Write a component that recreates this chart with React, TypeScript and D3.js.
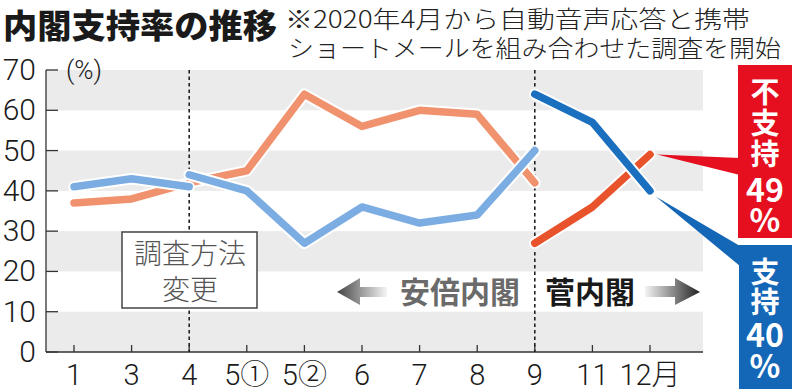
import * as d3 from "d3";

const months = ["1", "3", "4", "5①", "5②", "6", "7", "8", "9", "11", "12月"];
const yTicks = [0, 10, 20, 30, 40, 50, 60, 70];

// 安倍内閣（調査方法変更前）
const abeOldSupport = [41, 43, 41];
const abeOldDisapprove = [37, 38, 42];
// 安倍内閣（調査方法変更後）
const abeNewSupport = [44, 40, 27, 36, 32, 34, 50];
const abeNewDisapprove = [42, 45, 64, 56, 60, 59, 42];
// 菅内閣
const sugaSupport = [64, 57, 40];
const sugaDisapprove = [27, 36, 49];

const W = 800;
const H = 392;
const axisLeft = 46;
const axisRight = 703;
const jp = "'Noto Sans CJK JP', 'Noto Sans', sans-serif";
const num = "Roboto, 'Noto Sans CJK JP', sans-serif";

const x = d3.scalePoint<string>().domain(months).range([74, 650]);
const y = d3.scaleLinear().domain([0, 70]).range([352, 70]);

type Seg = { from: number; values: number[]; color: string };

const segments: Seg[] = [
  { from: 0, values: abeOldDisapprove, color: "#f1926e" },
  { from: 2, values: abeNewDisapprove, color: "#f1926e" },
  { from: 8, values: sugaDisapprove, color: "#e8532b" },
  { from: 0, values: abeOldSupport, color: "#7cade2" },
  { from: 2, values: abeNewSupport, color: "#7cade2" },
  { from: 8, values: sugaSupport, color: "#1b6fbf" },
];

const line = d3
  .line<[string, number]>()
  .x((d) => x(d[0])!)
  .y((d) => y(d[1]));

function segPath(s: Seg) {
  return line(s.values.map((v, i) => [months[s.from + i], v] as [string, number]))!;
}

export default function App() {
  const bands = [0, 20, 40, 60];
  const x4 = x("4")!;
  const x9 = x("9")!;
  const last = months[months.length - 1];
  const redEnd = { x: x(last)!, y: y(sugaDisapprove[2]) };
  const blueEnd = { x: x(last)!, y: y(sugaSupport[2]) };

  return (
    <div style={{ position: "fixed", left: 0, top: 0 }}>
      <svg width={W} height={H} style={{ display: "block", background: "#fff" }}>
        <defs>
          <linearGradient id="arrL" x1="0" x2="1" y1="0" y2="0">
            <stop offset="0%" stopColor="#444" />
            <stop offset="100%" stopColor="#444" stopOpacity={0.05} />
          </linearGradient>
          <linearGradient id="arrR" x1="0" x2="1" y1="0" y2="0">
            <stop offset="0%" stopColor="#222" stopOpacity={0.05} />
            <stop offset="100%" stopColor="#222" />
          </linearGradient>
        </defs>

        {/* title */}
        <text x={3} y={38} fontFamily={jp} fontWeight={900} fontSize={33} fill="#1a1a1a"
          textLength={274} lengthAdjust="spacingAndGlyphs">
          内閣支持率の推移
        </text>
        <text x={285} y={28} fontFamily={jp} fontWeight={300} fontSize={24} fill="#222"
          textLength={465} lengthAdjust="spacingAndGlyphs">
          ※2020年4月から自動音声応答と携帯
        </text>
        <text x={288} y={57} fontFamily={jp} fontWeight={300} fontSize={24} fill="#222"
          textLength={493} lengthAdjust="spacingAndGlyphs">
          ショートメールを組み合わせた調査を開始
        </text>

        {/* bands */}
        {bands.map((b) => (
          <rect key={b} x={axisLeft} y={y(b + 10)} width={axisRight - axisLeft}
            height={y(b) - y(b + 10)} fill="#ebebeb" />
        ))}

        {/* y axis */}
        <line x1={axisLeft} x2={axisLeft} y1={y(70)} y2={y(0)} stroke="#333" strokeWidth={1.3} />
        {yTicks.map((t) => (
          <g key={t}>
            <line x1={axisLeft} x2={axisLeft + 12} y1={y(t)} y2={y(t)} stroke="#333" strokeWidth={1.3} />
            <text x={36} y={y(t) + 10} textAnchor="end" fontFamily={num} fontWeight={300}
              fontSize={30} fill="#1a1a1a">{t}</text>
          </g>
        ))}
        <text x={66} y={79} fontFamily={num} fontWeight={300} fontSize={26} fill="#1a1a1a">(%)</text>

        {/* x axis */}
        <line x1={axisLeft} x2={axisRight} y1={y(0)} y2={y(0)} stroke="#333" strokeWidth={1.3} />
        {months.map((m) => (
          <g key={m}>
            <line x1={x(m)} x2={x(m)} y1={y(0)} y2={y(0) - 7} stroke="#333" strokeWidth={1.3} />
            <text x={x(m)} y={385} textAnchor="middle" fontFamily={num} fontWeight={300}
              fontSize={29} fill="#1a1a1a">{m}</text>
          </g>
        ))}

        {/* dividers */}
        {[x4, x9].map((xx, i) => (
          <line key={i} x1={xx} x2={xx} y1={y(70)} y2={y(0)} stroke="#222"
            strokeWidth={1.6} strokeDasharray="3.5,3" />
        ))}

        {/* method change box */}
        <rect x={122} y={232} width={135} height={76} fill="#fff" stroke="#444" strokeWidth={1.5} />
        <text x={190} y={264} textAnchor="middle" fontFamily={jp} fontWeight={300} fontSize={28} fill="#555">
          調査方法
        </text>
        <text x={190} y={300} textAnchor="middle" fontFamily={jp} fontWeight={300} fontSize={28} fill="#555">
          変更
        </text>

        {/* era arrows */}
        <path d="M337,292 L360,278 L360,287 L387,287 L387,297 L360,297 L360,305 Z" fill="url(#arrL)" />
        <text x={460} y={303} textAnchor="middle" fontFamily={jp} fontWeight={700} fontSize={30} fill="#6a6a6a">
          安倍内閣
        </text>
        <text x={590} y={303} textAnchor="middle" fontFamily={jp} fontWeight={700} fontSize={30} fill="#1a1a1a">
          菅内閣
        </text>
        <path d="M645,286 L675,286 L675,278 L700,292 L675,305 L675,297 L645,297 Z" fill="url(#arrR)" />

        {/* lines */}
        {segments.map((s, i) => (
          <g key={i}>
            <path d={segPath(s)} fill="none" stroke="#fff" strokeWidth={11.5}
              strokeLinecap="round" strokeLinejoin="round" />
            <path d={segPath(s)} fill="none" stroke={s.color} strokeWidth={7.5}
              strokeLinecap="round" strokeLinejoin="round" />
          </g>
        ))}

        {/* callouts */}
        <path d={`M${redEnd.x + 7},${redEnd.y} L740,158 L740,175 Z`} fill="#e50f1f" />
        <rect x={738} y={65} width={54} height={173} fill="#e50f1f" />
        <path d={`M${blueEnd.x + 6},${blueEnd.y + 6} L740,246 L740,266 Z`} fill="#1466b6" />
        <rect x={739} y={245} width={53} height={144} fill="#1466b6" />
        <text fontFamily={jp} fontWeight={700} fill="#fff" textAnchor="middle" fontSize={29}>
          <tspan x={765} y={103}>不</tspan>
          <tspan x={765} y={134}>支</tspan>
          <tspan x={765} y={165}>持</tspan>
          <tspan x={765} y={202} fontSize={32}>49</tspan>
          <tspan x={765} y={232} fontSize={32}>%</tspan>
        </text>
        <text fontFamily={jp} fontWeight={700} fill="#fff" textAnchor="middle" fontSize={29}>
          <tspan x={765} y={283}>支</tspan>
          <tspan x={765} y={313}>持</tspan>
          <tspan x={765} y={347} fontSize={32}>40</tspan>
          <tspan x={765} y={378} fontSize={32}>%</tspan>
        </text>
      </svg>
    </div>
  );
}
